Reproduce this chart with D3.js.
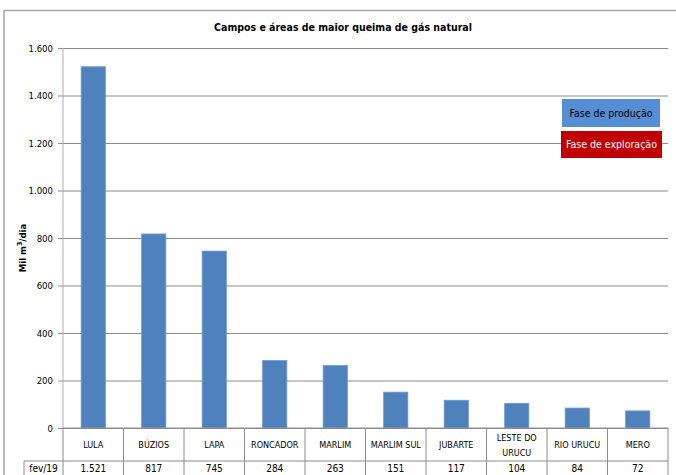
<!DOCTYPE html>
<html>
<head>
<meta charset="utf-8">
<script src="https://cdn.jsdelivr.net/npm/d3@7"></script>
<style>
  body { margin: 0; background: #fff; }
  svg text { font-family: "Liberation Sans Narrow", "DejaVu Sans Condensed", "Open Sans", sans-serif; fill: #000; }
</style>
</head>
<body>
<div id="chart"></div>
<script>
// data
const fields = ["LULA", "BÚZIOS", "LAPA", "RONCADOR", "MARLIM", "MARLIM SUL", "JUBARTE", "LESTE DO URUCU", "RIO URUCU", "MERO"]
const burnt = [1521, 817, 745, 284, 263, 151, 117, 104, 84, 72]
const seriesName = "fev/19"
const yTicks = [0, 200, 400, 600, 800, 1000, 1200, 1400, 1600]
const legendItems = ["Fase de produção", "Fase de exploração"]

const W = 676, H = 475
const plot = {left: 63, right: 668, top: 48, bottom: 428}
const fmt = d3.formatLocale({decimal: ",", thousands: ".", grouping: [3]}).format(",d")

const svg = d3.select("#chart")
    .append("svg")
    .attr("width", W)
    .attr("height", H)

// outer frame
svg.append("path")
    .attr("d", `M4,${H} V10.5 H${W}`)
    .attr("fill", "none")
    .attr("stroke", "#a6a6a6")
    .attr("stroke-width", 1.5)

svg.append("text")
    .attr("x", 343)
    .attr("y", 31)
    .attr("text-anchor", "middle")
    .attr("font-size", 10.5)
    .attr("font-weight", "bold")
    .text("Campos e áreas de maior queima de gás natural")

const x = d3.scaleBand()
    .domain(fields)
    .range([plot.left, plot.right])
    .paddingInner(0.6)
    .paddingOuter(0.3)

const xCell = d3.scaleBand()
    .domain(fields)
    .range([plot.left, plot.right])

const y = d3.scaleLinear()
    .domain([0, 1600])
    .range([plot.bottom, plot.top])

// gridlines + tick labels
const yAxis = svg.append("g")
    .attr("transform", `translate(${plot.left},0)`)
    .call(d3.axisLeft(y)
        .tickValues(yTicks)
        .tickSize(-(plot.right - plot.left))
        .tickPadding(10)
        .tickFormat(fmt))
yAxis.select(".domain").remove()
yAxis.selectAll(".tick line")
    .attr("stroke", "#8c8c8c")
    .attr("x1", -5)
yAxis.selectAll(".tick text")
    .attr("font-size", 9.5)
    .attr("fill", "#000")
    .style("font-family", "\"Liberation Sans Narrow\", \"DejaVu Sans Condensed\", sans-serif")

svg.append("line")
    .attr("x1", plot.left).attr("x2", plot.left)
    .attr("y1", plot.top).attr("y2", plot.bottom)
    .attr("stroke", "#b0b0b0")

svg.append("text")
    .attr("transform", `translate(26,${(plot.top + plot.bottom) / 2 + 10}) rotate(-90)`)
    .attr("text-anchor", "middle")
    .attr("font-size", 9.5)
    .attr("font-weight", "bold")
    .html("Mil m<tspan dy='-4' font-size='7'>3</tspan><tspan dy='4'>/dia</tspan>")

// bars
svg.selectAll("rect.bar")
    .data(fields)
    .enter()
    .append("rect")
    .attr("class", "bar")
    .attr("x", d => x(d))
    .attr("width", x.bandwidth())
    .attr("y", (d, i) => y(burnt[i]))
    .attr("height", (d, i) => y(0) - y(burnt[i]))
    .attr("fill", "#4f81bd")
    .attr("stroke", "#6f9bd0")
    .attr("stroke-width", 0.8)

// legend boxes
const legend = svg.append("g")
legend.append("rect")
    .attr("x", 562).attr("y", 99).attr("width", 98).attr("height", 28)
    .attr("fill", "#558ed5")
legend.append("text")
    .attr("x", 611).attr("y", 117)
    .attr("text-anchor", "middle")
    .attr("font-size", 10.5)
    .text(legendItems[0])
legend.append("rect")
    .attr("x", 561).attr("y", 131).attr("width", 101).attr("height", 27)
    .attr("fill", "#c00000")
legend.append("text")
    .attr("x", 611.5).attr("y", 148)
    .attr("text-anchor", "middle")
    .attr("font-size", 10.5)
    .style("fill", "#fff")
    .text(legendItems[1])

// data table (cut off at the bottom edge, like the source)
const rowLine = 461
const table = svg.append("g")
    .attr("stroke", "#8c8c8c")
    .attr("stroke-width", 1)

table.selectAll("line.v")
    .data(fields.concat([null]))
    .enter()
    .append("line")
    .attr("x1", d => d ? xCell(d) : plot.right)
    .attr("x2", d => d ? xCell(d) : plot.right)
    .attr("y1", plot.bottom)
    .attr("y2", H)

table.append("line")
    .attr("x1", 24).attr("x2", plot.right)
    .attr("y1", rowLine).attr("y2", rowLine)
table.append("line")
    .attr("x1", 24).attr("x2", 24)
    .attr("y1", rowLine).attr("y2", H)

svg.append("line")
    .attr("x1", plot.left).attr("x2", plot.right)
    .attr("y1", plot.bottom).attr("y2", plot.bottom)
    .attr("stroke", "#8c8c8c")

// category labels
svg.selectAll("text.cat")
    .data(fields)
    .enter()
    .append("text")
    .attr("class", "cat")
    .attr("x", d => xCell(d) + xCell.bandwidth() / 2)
    .attr("y", d => d === "LESTE DO URUCU" ? 441 : 448)
    .attr("text-anchor", "middle")
    .attr("font-size", 9)
    .each(function (d) {
        if (d === "LESTE DO URUCU") {
            d3.select(this).append("tspan").attr("x", xCell(d) + xCell.bandwidth() / 2).text("LESTE DO")
            d3.select(this).append("tspan").attr("x", xCell(d) + xCell.bandwidth() / 2).attr("dy", 15).text("URUCU")
        } else {
            d3.select(this).text(d)
        }
    })

svg.append("text")
    .attr("x", 43.5).attr("y", 472)
    .attr("text-anchor", "middle")
    .attr("font-size", 10)
    .text(seriesName)

svg.selectAll("text.val")
    .data(burnt)
    .enter()
    .append("text")
    .attr("class", "val")
    .attr("x", (d, i) => xCell(fields[i]) + xCell.bandwidth() / 2)
    .attr("y", 472)
    .attr("text-anchor", "middle")
    .attr("font-size", 10)
    .text(d => fmt(d))
</script>
</body>
</html>
